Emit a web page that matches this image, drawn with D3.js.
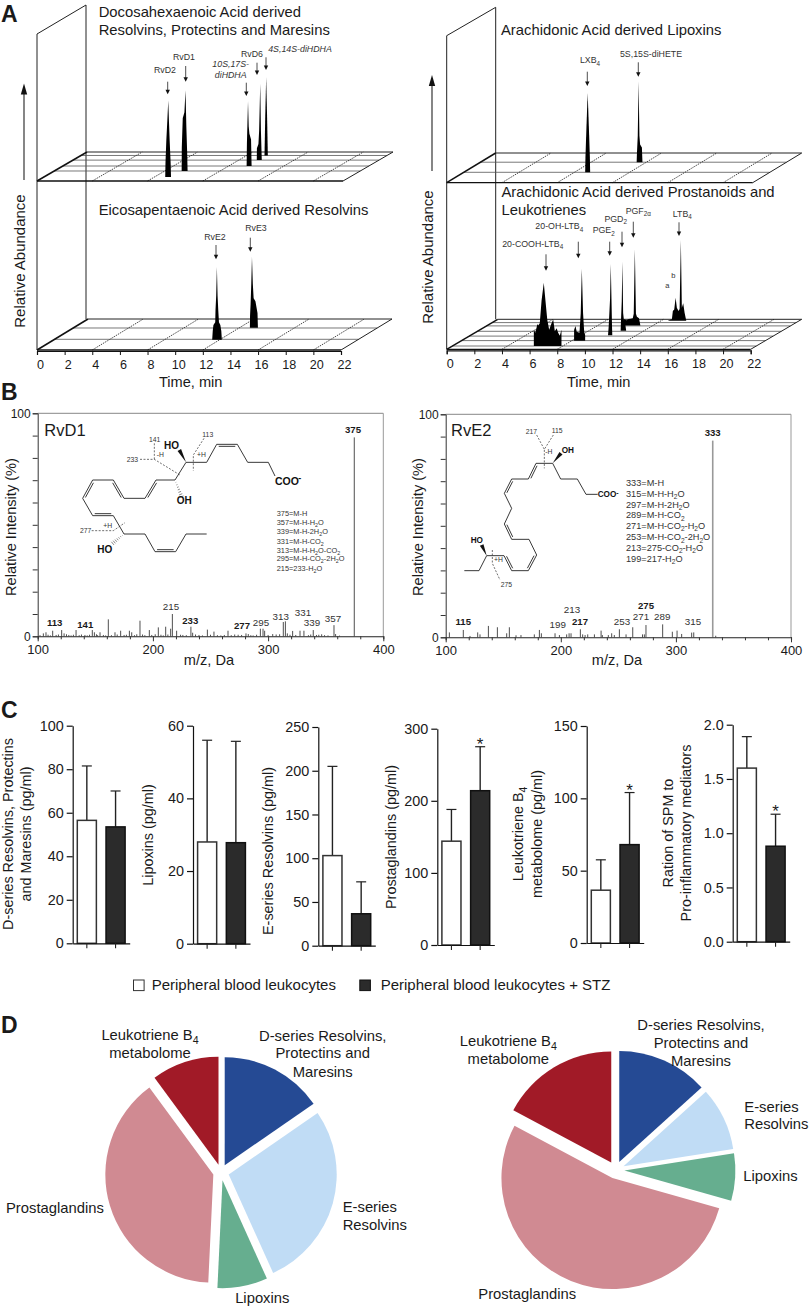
<!DOCTYPE html>
<html><head><meta charset="utf-8">
<script src="https://cdn.jsdelivr.net/npm/d3@7/dist/d3.min.js"></script>
<style>html,body{margin:0;padding:0;background:#fff}svg{display:block}
text{font-family:"Liberation Sans",Arial,sans-serif;fill:#1a1a1a}</style></head><body>
<svg id="c" width="810" height="1307" viewBox="0 0 810 1307"></svg>
<script>
// ---------- DATA ----------
const timeTicks = [0,2,4,6,8,10,12,14,16,18,20,22];
const dottedTimes = [4,8,12,16,20];
const peaksDHA = [
 {name:"RvD2",depth:.138,time:[8.78,8.8,8.86,8.93,9.0,9.05,9.1,9.17,9.2],abundance:[0,10,25,38,52,38,25,10,0]},
 {name:"RvD1",depth:.345,time:[9.22,9.23,9.3,9.36,9.42,9.5,9.56,9.62,9.65],abundance:[0,16,36,38,40,55,30,12,0]},
 {name:"10S,17S",depth:.517,time:[13.3,13.32,13.36,13.4,13.45,13.5,13.62,13.66],abundance:[0,15,30,44,27,22,18,0]},
 {name:"RvD6",depth:.72,time:[13.3,13.31,13.42,13.47,13.55,13.6,13.66],abundance:[0,8,11,20,52,20,0]},
 {name:"4S,14S",depth:.88,time:[13.28,13.33,13.4,13.47,13.52],abundance:[0,25,53,25,0]}
];
const peaksEPA = [
 {name:"RvE2",depth:.33,time:[11.46,11.5,11.55,11.68,11.7,11.75,11.8,11.85,11.9,11.95,12.05,12.12,12.16],abundance:[0,6,10,12,20,30,49.5,30,20,12,10,6,0]},
 {name:"RvE3",depth:.72,time:[12.75,12.76,12.8,12.85,12.9,12.96,13.02,13.15,13.3,13.33],abundance:[0,8,16,30,48,30,20,18,10,0]}
];
const peaksLipoxin = [
 {name:"LXB4",depth:.35,time:[8.78,8.8,8.87,8.96,9.05,9.12,9.14],abundance:[0,10,30,54,30,10,0]},
 {name:"5S,15S",depth:.69,time:[11.3,11.32,11.38,11.44,11.5,11.55,11.68,11.72],abundance:[0,6,18,55,18,12,10,0]}
];
const peaksProstanoid = [
 {name:"20-COOH-LTB4",depth:.11,time:[5.9,5.9,6.0,6.09,6.15,6.21,6.33,6.46,6.62,6.74,6.87,7.01,7.18,7.3,7.42,7.55,7.66,7.78,7.9,7.9],abundance:[0,11,9,12,15,14,15.4,31,43,31,18,11,15.4,18,10,12,9,7,11,0]},
 {name:"20-OH-LTB4",depth:.287,time:[8.16,8.16,8.26,8.35,8.55,8.64,8.72,8.81,8.89,8.96,8.96],abundance:[0,7.3,10,6,5.4,18.6,49,18.6,6,3.9,0]},
 {name:"PGE2",depth:.467,time:[9.95,10.0,10.1,10.15,10.2,10.24,10.26],abundance:[0,6,25,48.5,25,6,0]},
 {name:"PGD2",depth:.62,time:[10.3,10.33,10.38,10.43,10.48,10.55,10.64,10.7],abundance:[0,8,20,47,12,6,4,0]},
 {name:"PGF2a",depth:.79,time:[9.83,9.9,10.1,10.25,10.4,10.55,10.62,10.7,10.78,10.85,11.0,11.1],abundance:[0,4.5,3.7,4.5,4.6,5,8,52,8,6,5,0]},
 {name:"LTB4",depth:.95,time:[12.48,12.79,12.86,12.96,13.06,13.15,13.27,13.35,13.44,13.51,13.61,13.71,13.83],abundance:[0,1,6.6,7.7,15.6,8.8,6.6,8,55,8.8,12,5.4,0]}
];
const rowsDHA=[.345,.517,.72,.88], rowsEPA=[.345,.71], rowsLipoxin=[.35,.69], rowsProstanoid=[.11,.29,.44,.6,.78,.89];

const rvd1Mz=[104.9,107.2,113,120.8,122.9,133.3,147.4,149.2,154.1,161.3,167.1,172,179.6,181.6,188.8,196.9,204.7,211.1,215.4,216.9,220.6,233,234.5,247.3,253,265.2,280.8,282.8,293.3,295.6,297,304,313.2,315,316.7,321.3,327.7,331.1,339.2,346.5,357.2,358.6,374.8];
const rvd1Int=[1.3,1.8,2.5,2.8,1.3,2.8,2.8,1.8,1.8,7.6,1.8,2.5,2.5,1.8,7,2.8,4,4.3,3.4,10,2.5,4.3,1.6,3,2.1,2.5,1.3,1,3.4,3.4,2.5,1,6.4,6.7,1.3,2.4,2.5,2.5,2.8,.9,5,1,89.2];
const rvd1NoiseMz=[102,109,111,116,118,125,127,129,131,136,138,141,143,145,151,152,157,159,164,169,175,177,184,186,191,193,199,202,207,209,213,224,226,229,237,240,243,250,256,259,262,268,271,274,277,285,287,290,300,307,310,319,324,335,337,342,344,349,352,362];
const rvd1NoiseInt=[.5,.7,.4,.6,.8,.9,.6,.4,.7,.5,.8,.6,.4,.7,.9,.5,.6,.4,.5,.8,.6,.7,.5,.9,.8,.5,.6,.9,.7,.4,.8,.7,.6,.5,.8,.6,.4,.7,.5,.4,.6,.5,.8,.7,.6,.5,.4,.7,.6,.8,.9,.7,.6,.5,.8,.6,.7,.5,.4,.3];
const rve2Mz=[103.2,115.3,121.1,127.8,129.8,137.1,144.9,153,155.3,161.1,165.4,177,181.4,183.1,195,198.8,205.1,207.2,208.9,217,219,221.1,223.4,229.2,235,236.1,241.3,244.2,246.5,250.9,256.7,262.5,271,272.6,274,288.5,296.9,301,305,313.7,315.5,334.6];
const rve2Int=[2.2,3.3,.6,2.2,1.3,5.1,4.5,1.8,4.5,.9,1,1.3,3.3,1.8,1.8,1,1.3,1.8,1.8,3.6,1.3,1,1.3,1.3,3,1,1,1.8,1,3.6,1.3,4.5,1.3,1.3,5.5,5.8,2.5,3,1.5,2.1,2.2,.7];
const rve2BaseMz=[332], rve2BaseInt=[88.2];
const rvd1Fragments=["375=M-H","357=M-H-H_{2}O","339=M-H-2H_{2}O","331=M-H-CO_{2}","313=M-H-H_{2}O-CO_{2}","295=M-H-CO_{2}-2H_{2}O","215=233-H_{2}O"];
const rve2Fragments=["333=M-H","315=M-H-H_{2}O","297=M-H-2H_{2}O","289=M-H-CO_{2}","271=M-H-CO_{2}-H_{2}O","253=M-H-CO_{2}-2H_{2}O","213=275-CO_{2}-H_{2}O","199=217-H_{2}O"];

const barLabels=[["D-series Resolvins, Protectins","and Maresins (pg/ml)"],["Lipoxins (pg/ml)"],["E-series Resolvins (pg/ml)"],["Prostaglandins (pg/ml)"],["Leukotriene B_{4}","metabolome (pg/ml)"],["Ration of SPM to","Pro-inflammatory mediators"]];
const barTicks=[[0,20,40,60,80,100],[0,20,40,60],[0,50,100,150,200,250],[0,100,200,300],[0,50,100,150],[0,.5,1,1.5,2]];
const controlMeans=[56.5,28,103,144,36.5,1.6];
const controlUpper=[81.5,56,205,188,57.5,1.89];
const stzMeans=[53.5,27.8,36.5,214,68,.88];
const stzUpper=[70,55.7,73,275,104,1.175];
const significant=[false,false,false,true,true,true];
const legendLabels=["Peripheral blood leukocytes","Peripheral blood leukocytes + STZ"];

const pieNames=["D-series","E-series","Lipoxins","Prostaglandins","Leukotriene B4"];
const pieColors=["#254a94","#c0dcf5","#66ae8f","#d08a92","#a11a27"];
const pieControl=[15.4,27.9,7.5,39.2,10.1];
const pieStz=[13.3,9.2,6.9,53.4,17.2];

// ---------- HELPERS ----------
const svg=d3.select("#c");
function txt(x,y,s,o={}){
  const t=(o.parent||svg).append("text").attr("x",x).attr("y",y)
    .attr("font-size",o.size||14.6).attr("text-anchor",o.anchor||"start");
  if(o.bold)t.attr("font-weight","bold");
  if(o.italic)t.attr("font-style","italic");
  if(o.fill)t.style("fill",o.fill);
  if(o.rotate!=null)t.attr("transform",`rotate(${o.rotate} ${x} ${y})`);
  const fs=o.size||14.6, parts=s.split(/_\{([^}]*)\}/);
  let pending=0;
  parts.forEach((p,i)=>{
    if(p==="")return;
    const sub=i%2===1, ts=t.append("tspan").text(p);
    const dy=sub?fs*.25:pending; if(dy)ts.attr("dy",dy);
    if(sub)ts.attr("font-size",fs*.72);
    pending=sub?-fs*.25:0;
  });
  return t;
}
function seg(x1,y1,x2,y2,w=1,c="#222",dash){
  const l=svg.append("line").attr("x1",x1).attr("y1",y1).attr("x2",x2).attr("y2",y2)
    .attr("stroke",c).attr("stroke-width",w);
  if(dash)l.attr("stroke-dasharray",dash);
  return l;
}
function arrow(x,y1,y2,head=2.2,hl=4.5,w=.8){
  const s=y2>y1?1:-1;
  seg(x,y1,x,y2-s*(hl-1),w);
  svg.append("path").attr("d",`M${x-head},${y2-s*hl}L${x+head},${y2-s*hl}L${x},${y2}Z`).attr("fill","#111");
}
const abundancePx=d3.scaleLinear().domain([0,100]).range([0,147]);

function floor(cfg){
  const xT=d3.scaleLinear().domain([0,22]).range(cfg.xRange);
  const dx=d3.scaleLinear().domain([0,1]).range([0,cfg.depthX]);
  const dy=d3.scaleLinear().domain([0,1]).range([cfg.yFront,cfg.yBack]);
  const x0=xT(0), x1=cfg.xEnd||xT(22);
  cfg.rows.forEach(r=>seg(x0+dx(r),dy(r),x1+dx(r),dy(r),.8,"#555"));
  dottedTimes.forEach(t=>seg(xT(t),dy(0),xT(t)+dx(1),dy(1),.9,"#333","1.5 1"));
  seg(x0+dx(1),dy(1),x1+cfg.depthX,dy(1),1,"#222");
  seg(x1,dy(0),x1+cfg.depthX,dy(1),1,"#222");
  seg(x0,dy(0),x1,dy(0),1.3,"#111");
  seg(x0,dy(0),x0+cfg.depthX,dy(1),1.5,"#111");
  const area=d3.area().x(d=>xT(d[0])+dx(d[2])).y0(d=>dy(d[2])).y1(d=>dy(d[2])-abundancePx(d[1]));
  svg.append("g").selectAll("path").data(cfg.peaks).join("path")
    .attr("d",p=>area(p.time.map((t,i)=>[t,p.abundance[i],p.depth]))).attr("fill","#000");
  return {xT,dx,dy};
}
function timeAxis(xT,y,cx,labelY){
  const g=svg.append("g").attr("transform",`translate(0,${y})`)
    .call(d3.axisBottom(xT).tickValues(timeTicks).tickSize(4).tickPadding(5).tickFormat(d=>d));
  g.select(".domain").attr("stroke","#111").attr("stroke-width",1.2);
  g.selectAll(".tick line").attr("stroke","#111").attr("stroke-width",1);
  g.selectAll("text").attr("font-size",12.6).attr("font-family",'"Liberation Sans"').attr("dx",3).style("fill","#1a1a1a");
  txt(cx,labelY,"Time, min",{anchor:"middle",size:14.6});
}
function walls(x0,top,bot,xb,topb,botb){
  seg(x0,top,x0,bot,1,"#222"); seg(xb,topb,xb,botb,1,"#222"); seg(x0,top,xb,topb,1,"#222");
}
// ---------- PANEL A ----------
txt(1,22,"A",{bold:true,size:23});
walls(37,34,350,86,5,319);
walls(446.7,35.7,349.3,495.7,7.3,319.3);
floor({xRange:[37,341],xEnd:343,depthX:50,yFront:181,yBack:152,rows:rowsDHA,peaks:peaksDHA});
const fl=floor({xRange:[37,341],depthX:51,yFront:350,yBack:319,rows:rowsEPA,peaks:peaksEPA});
floor({xRange:[446.7,750.7],xEnd:752.7,depthX:49,yFront:182.7,yBack:153,rows:rowsLipoxin,peaks:peaksLipoxin});
const fr=floor({xRange:[446.7,750.7],depthX:51,yFront:349.3,yBack:319.3,rows:rowsProstanoid,peaks:peaksProstanoid});
timeAxis(fl.xT,351,190.7,386.5);
timeAxis(fr.xT,350.3,598.7,387);
arrow(24,180,83.5,3.2,11,1.1);
arrow(432,171,75,3.2,11,1.1);
txt(25,261,"Relative Abundance",{rotate:-90,anchor:"middle",size:15});
txt(433,257,"Relative Abundance",{rotate:-90,anchor:"middle",size:15});
const T=14.8;
txt(98.7,17.3,"Docosahexaenoic Acid derived",{size:T});
txt(98.7,35.2,"Resolvins, Protectins and Maresins",{size:T});
txt(98.7,215,"Eicosapentaenoic Acid derived Resolvins",{size:T});
txt(501,35,"Arachidonic Acid derived Lipoxins",{size:T});
txt(501.5,196.7,"Arachidonic Acid derived Prostanoids and",{size:T});
txt(501.5,215,"Leukotrienes",{size:T});
const L={size:8.8,anchor:"middle",fill:"#333"}, LI={...L,italic:true};
txt(165,72.7,"RvD2",L); arrow(167.7,81.7,94.3);
txt(184,60,"RvD1",L); arrow(185.7,66,81.7);
txt(230.7,67.3,"10S,17S-",LI); txt(230.7,78.3,"diHDHA",LI); arrow(246.3,82.7,96);
txt(252,56.7,"RvD6",L); arrow(257,62.7,75);
txt(300,51.7,"4S,14S-diHDHA",LI); arrow(266,57.3,70);
txt(215,240,"RvE2",L); arrow(216,245,259.3);
txt(256,231.3,"RvE3",L); arrow(250.3,237.7,251.7);
txt(590,63.3,"LXB_{4}",L); arrow(587.3,71.7,86);
txt(651,56.7,"5S,15S-diHETE",L); arrow(638.3,62.3,76.7);
txt(532.7,246.7,"20-COOH-LTB_{4}",L); arrow(546,254.3,270.7);
txt(559.3,229.3,"20-OH-LTB_{4}",L); arrow(578.3,241.7,258.3);
txt(603.7,233.3,"PGE_{2}",L); arrow(609.7,241.7,255.7);
txt(615.7,221.7,"PGD_{2}",L); arrow(622,231.7,247.3);
txt(638.3,214,"PGF_{2α}",L); arrow(633.3,221.7,237.7);
txt(682.3,216.7,"LTB_{4}",L); arrow(679,222.3,236);
txt(667.3,288,"a",{size:7.5,anchor:"middle",fill:"#333"});
txt(673.3,278,"b",{size:7.5,anchor:"middle",fill:"#333"});

// ---------- PANEL B ----------
txt(1,400,"B",{bold:true,size:23});
function spectrum(o){
  const x=d3.scaleLinear().domain([100,400]).range(o.xr), y=d3.scaleLinear().domain([0,100]).range(o.yr);
  seg(o.xr[0],o.yr[1],o.xr[1],o.yr[1],1,"#888"); seg(o.xr[1],o.yr[1],o.xr[1],o.yr[0],1,"#999");
  const g=svg.append("g");
  o.sticks.forEach(s=>{
    g.append("g").selectAll("line").data(s.mz).join("line")
      .attr("x1",d=>x(d)).attr("x2",d=>x(d)).attr("y1",y(0)).attr("y2",(d,i)=>y(s.int[i]))
      .attr("stroke",s.color||"#222").attr("stroke-width",s.w||.8);
  });
  const ay=svg.append("g").attr("transform",`translate(${o.xr[0]},0)`)
    .call(d3.axisLeft(y).tickValues(d3.range(0,101,10)).tickSize(5).tickPadding(2).tickFormat(d=>d===0||d===100?d:""));
  ay.select(".domain").attr("stroke","#333");
  ay.selectAll("line").attr("stroke","#333");
  ay.selectAll("text").attr("font-size",12).attr("font-family",'"Liberation Sans"').style("fill","#1a1a1a");
  const ax=svg.append("g").attr("transform",`translate(0,${o.yr[0]})`)
    .call(d3.axisBottom(x).tickValues(d3.range(100,401,20)).tickSize(3).tickPadding(4).tickFormat(d=>d%100===0?d:""));
  ax.select(".domain").attr("stroke","#222").attr("stroke-width",1.1);
  ax.selectAll("line").attr("stroke","#333");
  ax.selectAll(".tick").filter(d=>d%100===0).select("line").attr("y2",5);
  ax.selectAll("text").attr("font-size",13).attr("font-family",'"Liberation Sans"').style("fill","#1a1a1a").attr("y",8);
  txt(o.labX,o.labY,"m/z, Da",{anchor:"middle",size:14.6});
  txt(o.yLabX,o.yLabY,"Relative Intensity (%)",{anchor:"middle",rotate:-90,size:14.6});
  txt(o.nameX,o.nameY,o.name,{size:16.5});
}
spectrum({name:"RvD1",xr:[37.7,383.3],yr:[636.3,413.3],labX:209,labY:665,yLabX:16,yLabY:527,nameX:44.3,nameY:436,
  sticks:[{mz:rvd1NoiseMz,int:rvd1NoiseInt},{mz:rvd1Mz,int:rvd1Int}]});
spectrum({name:"RvE2",xr:[445.7,791],yr:[637.3,414.3],labX:617,labY:665,yLabX:423,yLabY:527,nameX:451,nameY:436,
  sticks:[{mz:rve2Mz,int:rve2Int},{mz:rve2BaseMz,int:rve2BaseInt,color:"#999",w:1.6}]});
const pb={size:9.6,anchor:"middle",bold:true}, pn={size:9.8,anchor:"middle",fill:"#333"};
[["113",54.7,626],["141",85.3,628],["233",190.3,624],["277",242,629],["375",353,433]].forEach(a=>txt(a[1],a[2],a[0],pb));
[["215",171,610],["295",261,626],["313",280.7,619.5],["331",303,616],["339",312,626],["357",333,622]].forEach(a=>txt(a[1],a[2],a[0],pn));
[["115",463.3,625],["217",580,625],["275",646,609],["333",712.7,436]].forEach(a=>txt(a[1],a[2],a[0],pb));
[["213",572,613],["199",557.7,628],["253",622,625],["271",641,620],["289",662.3,620],["315",693,625]].forEach(a=>txt(a[1],a[2],a[0],pn));
rvd1Fragments.forEach((s,i)=>txt(276.7,[516,525,534.3,543.7,553,561.3,570.7][i],s,{size:7.4,fill:"#333"}));
rve2Fragments.forEach((s,i)=>txt(626,[486,497,507.7,518.3,529,540.3,551,561.7][i],s,{size:9.2,fill:"#333"}));

// chemical structures (illustration, not data)
function structure(ox,oy,o){
  const P=p=>[ox+p[0]/3,oy+p[1]/3], line=d3.line();
  svg.append("path").attr("d",line(o.chain.map(P))).attr("fill","none").attr("stroke","#222").attr("stroke-width",.9);
  o.doubles.forEach(([a,b])=>{
    const dx=b[0]-a[0],dy=b[1]-a[1],len=Math.hypot(dx,dy),nx=dy/len*6,ny=-dx/len*6;
    const A=P([a[0]+nx+dx*.1,a[1]+ny+dy*.1]),B=P([b[0]+nx-dx*.1,b[1]+ny-dy*.1]);
    seg(A[0],A[1],B[0],B[1],.9);
  });
  o.dashed.forEach(d=>svg.append("path").attr("d",line(d.map(P))).attr("fill","none").attr("stroke","#333").attr("stroke-width",.7).attr("stroke-dasharray","2 1.5"));
  (o.wedges||[]).forEach(([a,b])=>{
    const dx=b[0]-a[0],dy=b[1]-a[1],len=Math.hypot(dx,dy),nx=dy/len*6,ny=-dx/len*6;
    svg.append("path").attr("d",line([P(a),P([b[0]+nx,b[1]+ny]),P([b[0]-nx,b[1]-ny])])+"Z").attr("fill","#111");
  });
  (o.hashes||[]).forEach(([a,b])=>{
    const dx=b[0]-a[0],dy=b[1]-a[1],len=Math.hypot(dx,dy);
    d3.range(1,8).forEach(i=>{const f=i/7,w=f*6,nx=dy/len*w,ny=-dx/len*w;
      const A=P([a[0]+dx*f+nx,a[1]+dy*f+ny]),B=P([a[0]+dx*f-nx,a[1]+dy*f-ny]);seg(A[0],A[1],B[0],B[1],.5,"#111");});
  });
  o.labels.forEach(l=>{const p=P([l[1],l[2]]);txt(p[0],p[1],l[0],{size:l[3],bold:l[4],fill:l[4]?"#111":"#333"});});
}
structure(0,400,{
  chain:[[825,228],[805,187],[743,187],[712,133],[650,133],[620,187],[558,187],[525,240],[468,240],[435,295],[372,295],[340,240],[278,240],[248,295],[278,347],[340,347],[372,402],[435,402],[465,455],[527,455],[558,402],[620,402]],
  doubles:[[[712,133],[650,133]],[[468,240],[435,295]],[[372,295],[340,240]],[[278,240],[248,295]],[[278,347],[340,347]],[[465,455],[527,455]]],
  wedges:[[[558,187],[538,150]]],
  hashes:[[[525,240],[545,290]],[[372,402],[338,430]]],
  dashed:[[[463,130],[463,178]],[[420,178],[463,178],[540,225]],[[612,115],[580,165],[580,212]],[[275,392],[340,392],[375,368]]],
  labels:[["141",447,125,6.8],["233",380,185,6.8],["-H",470,171,6.8],["113",607,110,6.8],["+H",591,171,6.8],["277",240,398,6.8],["+H",310,385,6.8],
    ["HO",492,146,10,true],["OH",530,312,10,true],["HO",292,458,10,true],["COO",825,254,10.5,true],["-",895,244,9,true]]
});
structure(405,400,{
  chain:[[578,283],[543,283],[517,237],[467,237],[443,190],[393,190],[370,237],[320,237],[298,280],[320,325],[298,372],[320,418],[372,418],[395,465],[370,512],[320,512],[297,467],[245,467],[222,512],[178,512]],
  doubles:[[[393,190],[370,237]],[[320,237],[298,280]],[[298,372],[320,418]],[[370,512],[395,465]],[[297,467],[320,512]]],
  wedges:[[[443,190],[468,160]],[[245,467],[230,435]]],
  dashed:[[[395,105],[418,148]],[[445,105],[418,148],[418,205]],[[262,450],[262,490],[285,540]]],
  labels:[["217",362,102,6.8],["115",440,100,6.8],["-H",421,163,6.8],["+H",267,485,6.8],["275",287,560,6.8],
    ["OH",470,160,8.2,true],["HO",197,429,8.2,true],["COO",578,291,8.2,true],["-",634,284,7,true]]
});

// ---------- PANEL C ----------
txt(1,718,"C",{bold:true,size:23});
const barAxisX=[72.7,193,318.3,437.3,586.7,732.7];
const barTop=[725.7,725.7,727,728.7,726,724.7];
const barBase=[943.3,943.7,945.7,945,943,941.7];
const labelBaselines=[[13.3,31],[153.3],[272.7],[396],[523.3,541.7],[672.7,691]];
const labelCenters=[834,835,851,837,834,833];
barLabels.forEach((lab,i)=>{
  const ticks=barTicks[i], y=d3.scaleLinear().domain([0,d3.max(ticks)]).range([barBase[i],barTop[i]]);
  const x=d3.scaleBand().domain(["control","stz"]).range([barAxisX[i],barAxisX[i]+57]).paddingInner(.336).paddingOuter(.16);
  const g=svg.append("g");
  const means=[controlMeans[i],stzMeans[i]], ups=[controlUpper[i],stzUpper[i]], keys=x.domain();
  keys.forEach((k,j)=>{
    const cx=x(k)+x.bandwidth()/2;
    g.append("line").attr("x1",cx).attr("x2",cx).attr("y1",y(means[j])).attr("y2",y(ups[j])).attr("stroke","#222").attr("stroke-width",1.4);
    g.append("line").attr("x1",cx-5).attr("x2",cx+5).attr("y1",y(ups[j])).attr("y2",y(ups[j])).attr("stroke","#222").attr("stroke-width",1.2);
    g.append("rect").attr("x",x(k)).attr("width",x.bandwidth()).attr("y",y(means[j])).attr("height",y(0)-y(means[j]))
      .attr("fill",j?"#2b2b2b":"#fff").attr("stroke",j?"#111":"#333").attr("stroke-width",1.5);
  });
  const ax=svg.append("g").attr("transform",`translate(0,${barBase[i]})`)
    .call(d3.axisBottom(x).tickSize(5).tickSizeOuter(0).tickFormat(""));
  ax.select(".domain").attr("stroke","#111").attr("stroke-width",1.2);
  ax.selectAll("line").attr("stroke","#222").attr("stroke-width",1.1);
  const ay=svg.append("g").attr("transform",`translate(${barAxisX[i]},0)`)
    .call(d3.axisLeft(y).tickValues(ticks).tickSize(6).tickSizeOuter(0).tickPadding(3).tickFormat(i===5?d3.format(".1f"):d=>d));
  ay.select(".domain").attr("stroke","#111").attr("stroke-width",1.2);
  ay.selectAll("line").attr("stroke","#111").attr("stroke-width",1.2);
  ay.selectAll("text").attr("font-size",14.4).attr("font-family",'"Liberation Sans"').style("fill","#1a1a1a");
  lab.forEach((s,k)=>txt(labelBaselines[i][k],labelCenters[i],s,{rotate:-90,anchor:"middle",size:14.4}));
  if(significant[i]) txt(x("stz")+x.bandwidth()/2,y(stzUpper[i])+3,"*",{anchor:"middle",size:17});
});
svg.append("rect").attr("x",133.5).attr("y",980).attr("width",10.6).attr("height",10.6).attr("fill","#fff").attr("stroke","#333").attr("stroke-width",1);
svg.append("rect").attr("x",359.8).attr("y",980).attr("width",10.6).attr("height",10.6).attr("fill","#2b2b2b").attr("stroke","#111").attr("stroke-width",1);
txt(151.7,990,legendLabels[0],{size:15});
txt(380.7,990,legendLabels[1],{size:15});

// ---------- PANEL D ----------
txt(1,1033,"D",{bold:true,size:23});
function pieChart(values,cx,cy,r,gap){
  const arcs=d3.pie().sort(null)(values), arc=d3.arc().innerRadius(0).outerRadius(r);
  svg.append("g").attr("transform",`translate(${cx},${cy})`).selectAll("path").data(arcs).join("path")
    .attr("d",arc).attr("fill",(d,i)=>pieColors[i])
    .attr("transform",d=>{const a=(d.startAngle+d.endAngle)/2;return `translate(${gap*Math.sin(a)},${-gap*Math.cos(a)})`;});
}
pieChart(pieControl,221,1172.3,108,8);
pieChart(pieStz,615.7,1170,111,8.7);
const PF=14.8, pc={anchor:"middle",size:PF};
txt(150,1040,"Leukotriene B_{4}",pc); txt(150,1057.7,"metabolome",pc);
txt(322.7,1040.7,"D-series Resolvins,",pc); txt(322.7,1058.3,"Protectins and",pc); txt(322.7,1076.7,"Maresins",pc);
txt(6,1212.7,"Prostaglandins",{size:PF});
txt(342.7,1212.3,"E-series",{size:PF}); txt(342.7,1230,"Resolvins",{size:PF});
txt(262.3,1303,"Lipoxins",pc);
txt(508.3,1046,"Leukotriene B_{4}",pc); txt(508.3,1064,"metabolome",pc);
txt(701,1030,"D-series Resolvins,",pc); txt(701,1047.7,"Protectins and",pc); txt(701,1065.7,"Maresins",pc);
txt(744.3,1111.7,"E-series",{size:PF}); txt(744.3,1129.3,"Resolvins",{size:PF});
txt(743.3,1181,"Lipoxins",{size:PF});
txt(478.3,1298.7,"Prostaglandins",{size:PF});
</script></body></html>
